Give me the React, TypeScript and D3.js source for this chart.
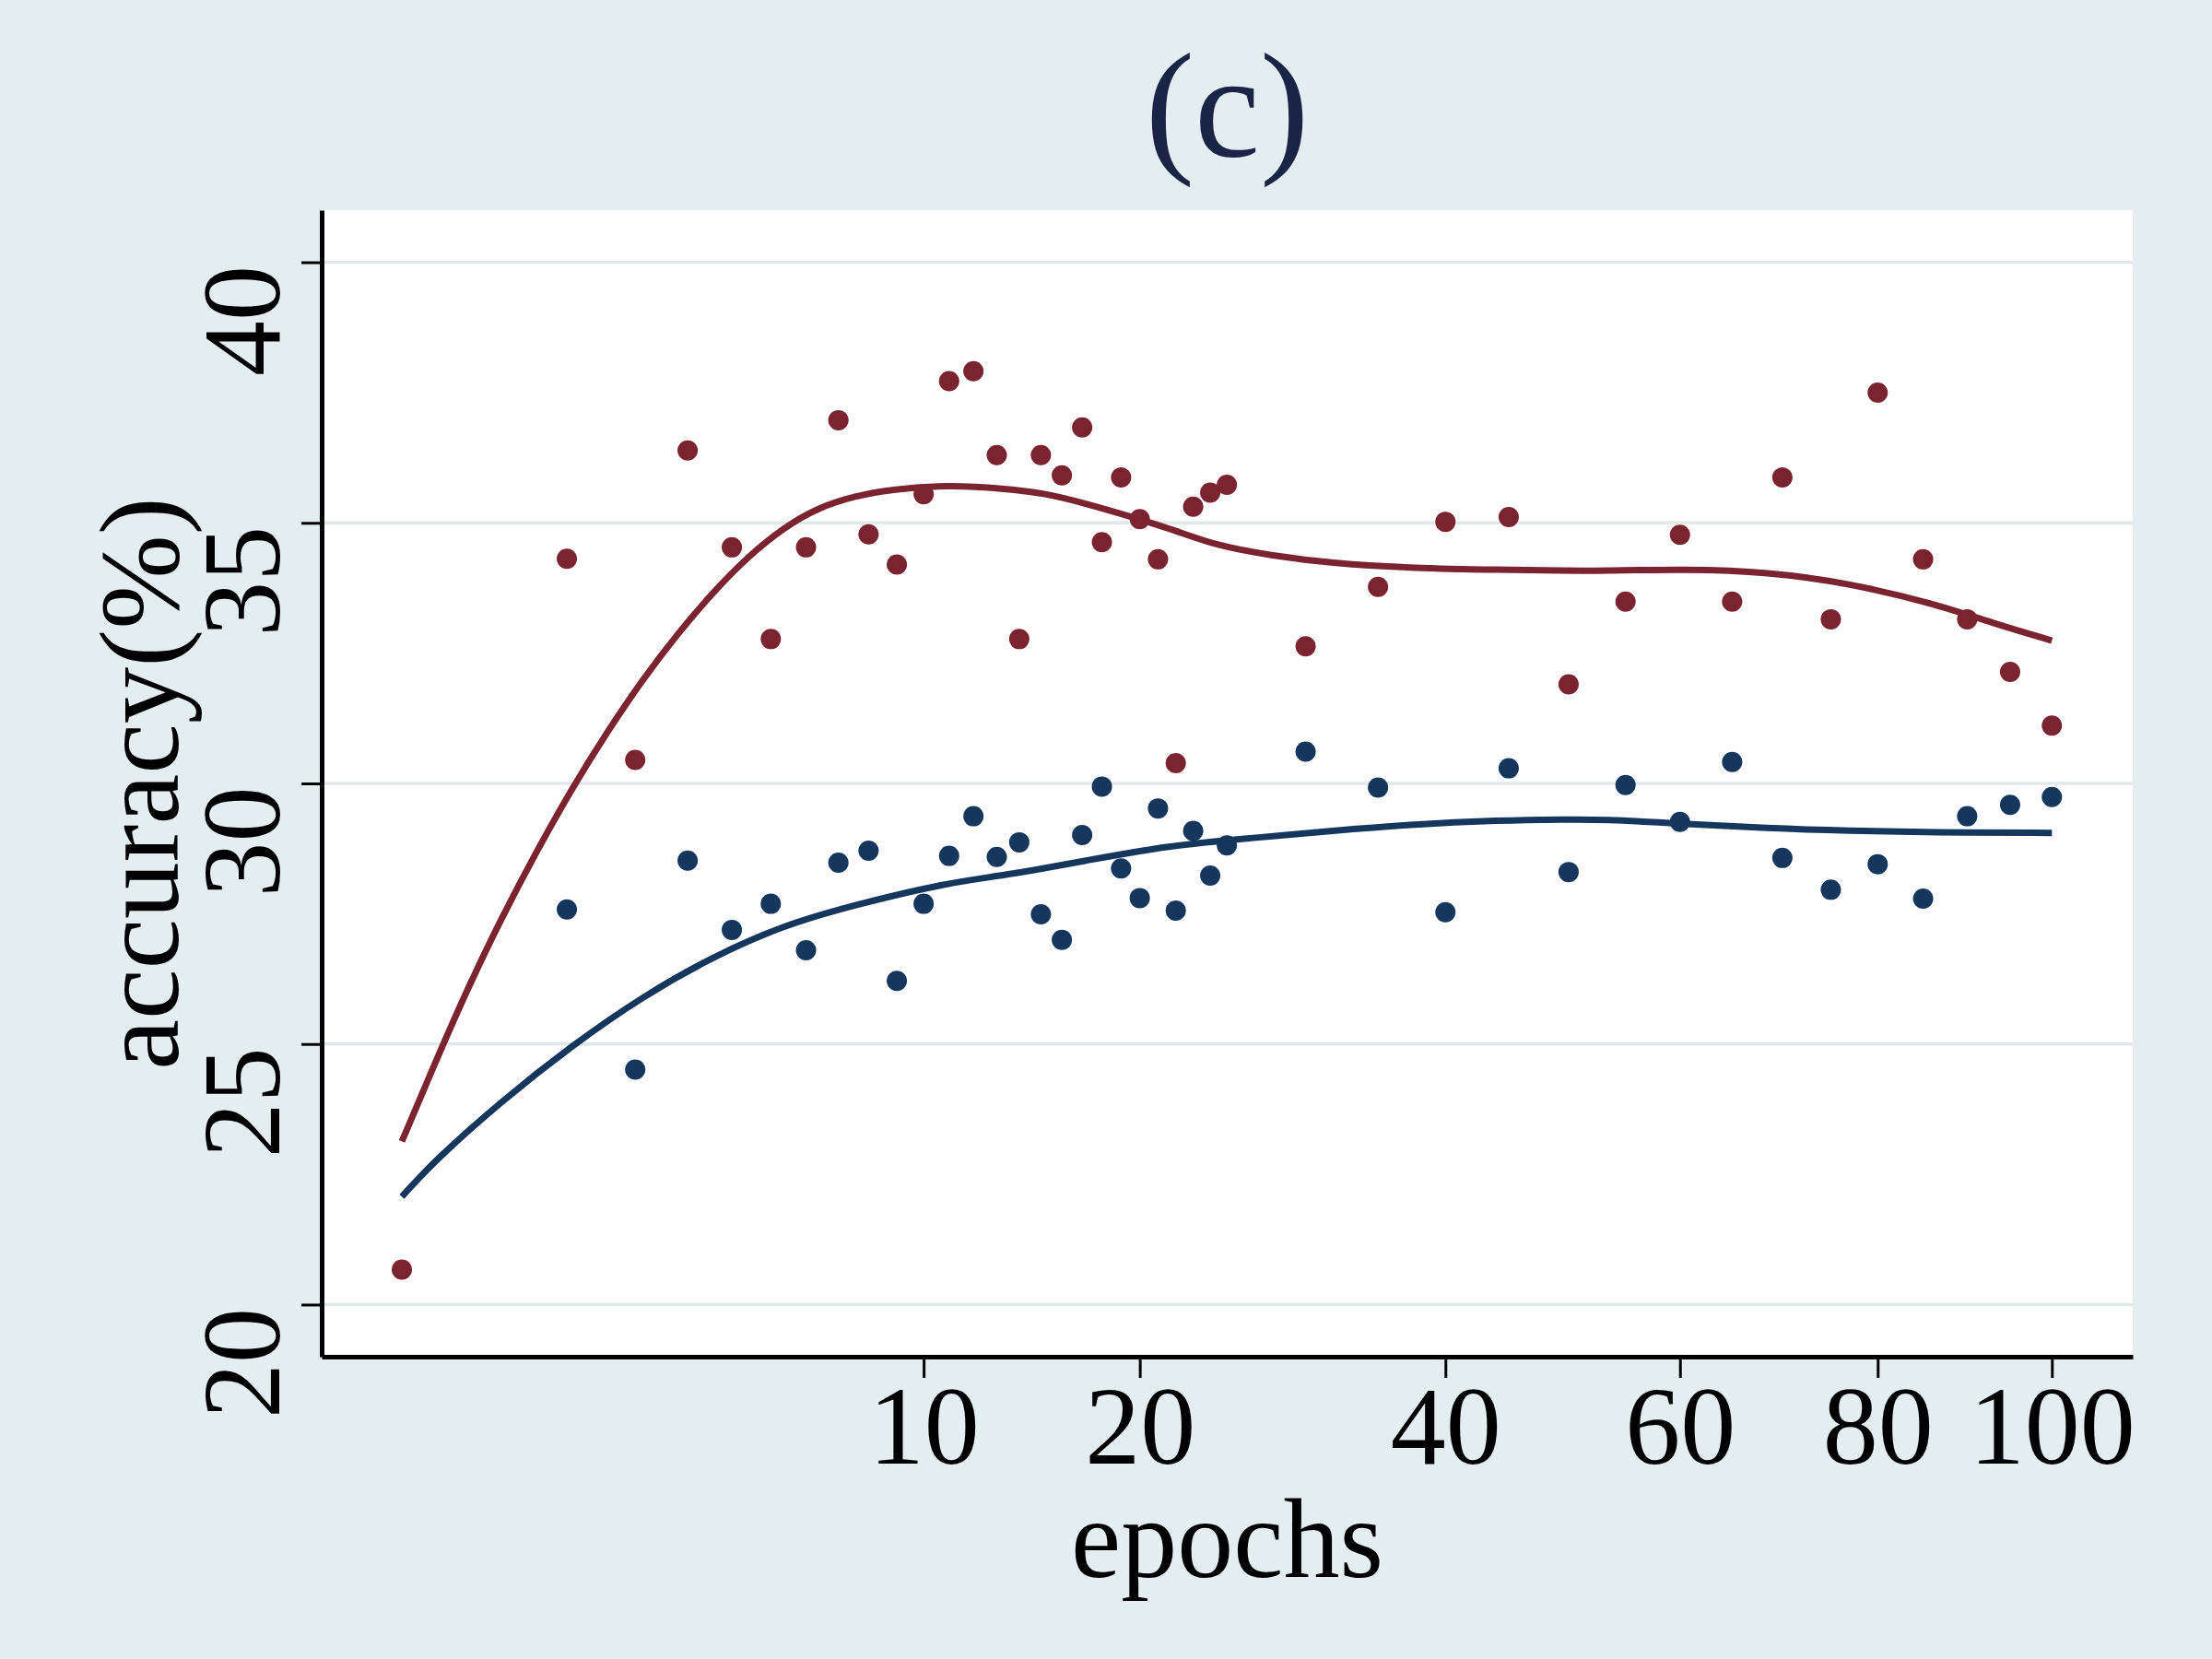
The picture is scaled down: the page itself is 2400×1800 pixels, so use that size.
import React, { useEffect, useRef } from 'react';
import * as d3 from 'd3';

// epochs where both runs were evaluated
const epochs = [
  0, 1, 2, 3, 4, 5, 6, 7, 8, 9, 10, 11, 12, 13, 14, 15, 16, 17, 18, 19, 20, 21, 22, 23, 24, 25,
  30, 35, 40, 45, 50, 55, 60, 65, 70, 75, 80, 85, 90, 95, 100
];

const redAcc = [
  20.67, 34.31, 30.45, 36.39, 34.53, 32.77, 34.53, 36.97, 34.78, 34.2, 35.55, 37.72, 37.91, 36.3,
  32.77, 36.3, 35.91, 36.83, 34.63, 35.87, 35.07, 34.3, 30.39, 35.31, 35.58, 35.73,
  32.63, 33.77, 35.02, 35.11, 31.9, 33.49, 34.77, 33.49, 35.87, 33.15, 37.5, 34.3, 33.15, 32.14, 31.11
];

const blueAcc = [
  null, 27.58, 24.51, 28.52, 27.19, 27.69, 26.8, 28.48, 28.71, 26.21, 27.69, 28.61, 29.37, 28.59,
  28.87, 27.49, 27.0, 29.01, 29.94, 28.37, 27.8, 29.52, 27.56, 29.09, 28.23, 28.81,
  30.61, 29.92, 27.53, 30.29, 28.3, 29.97, 29.26, 30.41, 28.57, 27.96, 28.45, 27.79, 29.37, 29.59, 29.74
];

// smoothed fits
const redFitEpochs = [
  0, 0.031, 0.151, 0.363, 0.667, 1.061, 1.548, 2.127, 2.797, 3.557, 4.41, 5.355, 6.39, 7.52, 8.74,
  10.99, 13.3, 15.2, 17.2, 20, 22, 24.4, 27.8, 31.8, 37.7, 44.1, 49.8, 53, 60.5, 68.5, 77, 86,
  93.1, 100
];
const redFit = [
  23.13, 24.45, 26.0, 27.41, 28.7, 29.9, 30.99, 31.99, 32.88, 33.67, 34.36, 34.91, 35.3, 35.51,
  35.64, 35.73, 35.66, 35.57, 35.37, 35.07, 34.85, 34.56, 34.37, 34.22, 34.13, 34.1, 34.08, 34.08,
  34.11, 34.06, 33.84, 33.46, 33.07, 32.74
];

const blueFitEpochs = [
  0, 0.039, 0.363, 1.061, 2.127, 3.557, 5.355, 7.52, 10.99, 13.3, 17.2, 21.6, 26.5, 31.8, 37.7,
  44.1, 49.8, 53, 60.1, 68.5, 77, 86, 100
];
const blueFit = [
  22.07, 22.76, 23.9, 24.97, 25.91, 26.68, 27.28, 27.67, 28.1, 28.23, 28.52, 28.81, 28.95, 29.09,
  29.22, 29.29, 29.31, 29.31, 29.23, 29.14, 29.09, 29.06, 29.05
];

const xTicks = [10, 20, 40, 60, 80, 100];
const yTicks = [20, 25, 30, 35, 40];

const App = () => {
  const container = useRef(null);

  const width = 2400;
  const height = 1800;
  const plot = { l: 349, t: 228, r: 2314, b: 1472 };

  const red = '#7c2331';
  const blue = '#15365d';
  const bg = '#e4edef';
  const font = '"Liberation Serif", "Times New Roman", serif';

  useEffect(() => {
    createChart();
  }, []);

  const createChart = () => {
    const svg = d3
      .select(container.current)
      .selectAll('svg')
      .data([0])
      .join('svg')
      .attr('width', width)
      .attr('height', height)
      .style('display', 'block');

    svg.selectAll('*').remove();

    // x is on a square-root scale
    const xScale = d3.scaleLinear().domain([-0.486, 10.49]).range([plot.l, plot.r]);
    const x = e => xScale(Math.sqrt(e));
    const yScale = d3.scaleLinear().domain([19, 41]).range([plot.b, plot.t]);

    svg.append('rect').attr('width', width).attr('height', height).attr('fill', bg);
    svg
      .append('rect')
      .attr('x', plot.l)
      .attr('y', plot.t)
      .attr('width', plot.r - plot.l)
      .attr('height', plot.b - plot.t)
      .attr('fill', '#ffffff');

    svg
      .selectAll('.grid')
      .data(yTicks)
      .join('line')
      .attr('class', 'grid')
      .attr('x1', plot.l)
      .attr('x2', plot.r)
      .attr('y1', d => yScale(d))
      .attr('y2', d => yScale(d))
      .attr('stroke', '#e0eaed')
      .attr('stroke-width', 3.5);

    const redPts = epochs.map((e, i) => ({ e, v: redAcc[i] }));
    const bluePts = epochs.map((e, i) => ({ e, v: blueAcc[i] })).filter(d => d.v != null);

    svg
      .selectAll('.red_pt')
      .data(redPts)
      .join('circle')
      .attr('class', 'red_pt')
      .attr('cx', d => x(d.e))
      .attr('cy', d => yScale(d.v))
      .attr('r', 11)
      .attr('fill', red);

    svg
      .selectAll('.blue_pt')
      .data(bluePts)
      .join('circle')
      .attr('class', 'blue_pt')
      .attr('cx', d => x(d.e))
      .attr('cy', d => yScale(d.v))
      .attr('r', 11)
      .attr('fill', blue);

    const line = d3
      .line()
      .x(d => x(d[0]))
      .y(d => yScale(d[1]))
      .curve(d3.curveBasis);

    svg
      .append('path')
      .attr('d', line(redFitEpochs.map((e, i) => [e, redFit[i]])))
      .attr('fill', 'none')
      .attr('stroke', red)
      .attr('stroke-width', 7);

    svg
      .append('path')
      .attr('d', line(blueFitEpochs.map((e, i) => [e, blueFit[i]])))
      .attr('fill', 'none')
      .attr('stroke', blue)
      .attr('stroke-width', 7);

    const xAxis = d3
      .axisBottom(xScale)
      .tickValues(xTicks.map(Math.sqrt))
      .tickFormat((d, i) => String(xTicks[i]))
      .tickSize(23)
      .tickSizeOuter(0);

    const xg = svg
      .append('g')
      .attr('transform', `translate(0, ${plot.b})`)
      .call(xAxis);
    xg.select('.domain').attr('stroke', '#000').attr('stroke-width', 5);
    xg.selectAll('.tick line').attr('stroke', '#000').attr('stroke-width', 3);
    xg.selectAll('.tick text')
      .attr('y', 116)
      .attr('dy', null)
      .attr('fill', '#000')
      .style('font-family', font)
      .style('font-size', '120px');

    const yAxis = d3.axisLeft(yScale).tickValues(yTicks).tickSize(22).tickSizeOuter(0);

    const yg = svg
      .append('g')
      .attr('transform', `translate(${plot.l}, 0)`)
      .call(yAxis);
    yg.select('.domain').attr('stroke', '#000').attr('stroke-width', 5);
    yg.selectAll('.tick line').attr('stroke', '#000').attr('stroke-width', 3);
    yg.selectAll('.tick text')
      .attr('x', null)
      .attr('dy', null)
      .attr('text-anchor', 'end')
      .attr('transform', 'translate(-46, 3) rotate(-90)')
      .attr('fill', '#000')
      .style('font-family', font)
      .style('font-size', '120px');
    xg.attr('font-family', null).attr('font-size', null);
    yg.attr('font-family', null).attr('font-size', null);

    svg
      .append('text')
      .attr('x', (plot.l + plot.r) / 2)
      .attr('y', 1711)
      .attr('text-anchor', 'middle')
      .style('font-family', font)
      .style('font-size', '122px')
      .text('epochs');

    svg
      .append('text')
      .attr('transform', `translate(193, ${(plot.t + plot.b) / 2}) rotate(-90)`)
      .attr('text-anchor', 'middle')
      .style('font-family', font)
      .style('font-size', '123px')
      .text('accuracy(%)');

    svg
      .append('text')
      .attr('x', (plot.l + plot.r) / 2)
      .attr('y', 169)
      .attr('text-anchor', 'middle')
      .attr('fill', '#1a2446')
      .style('font-family', font)
      .style('font-size', '160px')
      .text('(c)');
  };

  return (
    <div
      className="scatter-container"
      ref={container}
      style={{ position: 'absolute', left: 0, top: 0 }}
    ></div>
  );
};

export default App;
